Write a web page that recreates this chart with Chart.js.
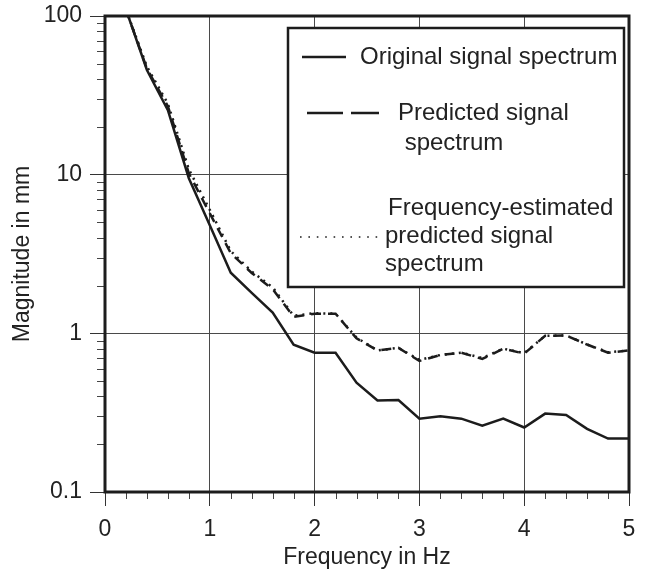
<!DOCTYPE html>
<html>
<head>
<meta charset="utf-8">
<script src="https://cdn.jsdelivr.net/npm/chart.js@4.4.1/dist/chart.umd.min.js"></script>
<style>
  html, body { margin: 0; padding: 0; background: #fff; }
  #wrap { width: 647px; height: 574px; }
</style>
</head>
<body>
<div id="wrap"><canvas id="spectrumChart" width="647" height="574"></canvas></div>
<script>
// frequency bins (Hz)
const freqHz = [0.2, 0.4, 0.6, 0.8, 1.0, 1.2, 1.4, 1.6, 1.8, 2.0, 2.2, 2.4, 2.6,
                2.8, 3.0, 3.2, 3.4, 3.6, 3.8, 4.0, 4.2, 4.4, 4.6, 4.8, 5.0];

// magnitudes in mm
const originalSpectrum  = [110, 45.7, 25.5, 9.5, 4.8, 2.41, 1.80, 1.35, 0.847, 0.755, 0.755, 0.489, 0.377,
                           0.38, 0.29, 0.30, 0.29, 0.262, 0.29, 0.255, 0.312, 0.306, 0.25, 0.217, 0.217];
const predictedSpectrum = [110, 46.5, 27, 10.2, 5.7, 3.2, 2.4, 1.9, 1.27, 1.33, 1.33, 0.93, 0.78,
                           0.81, 0.67, 0.73, 0.755, 0.69, 0.80, 0.745, 0.965, 0.97, 0.85, 0.755, 0.78];
const estimatedSpectrum = [110, 48, 28, 10.8, 6.0, 3.3, 2.45, 1.95, 1.29, 1.34, 1.33, 0.94, 0.78,
                           0.81, 0.68, 0.73, 0.755, 0.70, 0.80, 0.75, 0.965, 0.97, 0.85, 0.76, 0.78];

// axis ticks
const xTickValues = [0, 0.2, 0.4, 0.6, 0.8, 1, 1.2, 1.4, 1.6, 1.8, 2, 2.2, 2.4, 2.6, 2.8,
                     3, 3.2, 3.4, 3.6, 3.8, 4, 4.2, 4.4, 4.6, 4.8, 5];
const xMajorValues = [0, 1, 2, 3, 4, 5];
const xTickLabels  = ['0', '1', '2', '3', '4', '5'];
const yTickValues = [0.1, 0.2, 0.3, 0.4, 0.5, 0.6, 0.7, 0.8, 0.9,
                     1, 2, 3, 4, 5, 6, 7, 8, 9,
                     10, 20, 30, 40, 50, 60, 70, 80, 90, 100];
const yMajorValues = [0.1, 1, 10, 100];
const yTickLabels  = ['0.1', '1', '10', '100'];

const seriesLabels = [
    ['Original signal spectrum'],
    ['Predicted signal', ' spectrum'],
    ['Frequency-estimated', 'predicted signal', 'spectrum']
];

const INK = '#1c1c1c';
const GRID = '#4a4a4a';
const FONT = '"Liberation Sans", Arial, sans-serif';

function majorIndex(list, v) {
    return list.findIndex(m => Math.abs(m - v) < 1e-6 * Math.max(1, m));
}

function toPoints(ys) {
    return freqHz.map((f, i) => ({ x: f, y: ys[i] }));
}

// frame, short minor ticks and the boxed legend
const spectrumDecor = {
    id: 'spectrumDecor',
    afterDatasetsDraw(chart) {
        const { ctx, chartArea: a, scales } = chart;
        ctx.save();

        // minor ticks, outside the plot
        ctx.strokeStyle = '#444';
        ctx.lineWidth = 1;
        ctx.beginPath();
        xTickValues.forEach(v => {
            if (majorIndex(xMajorValues, v) >= 0) return;
            const px = Math.round(scales.x.getPixelForValue(v)) + 0.5;
            ctx.moveTo(px, a.bottom);
            ctx.lineTo(px, a.bottom + 7);
        });
        yTickValues.forEach(v => {
            if (majorIndex(yMajorValues, v) >= 0) return;
            const py = Math.round(scales.y.getPixelForValue(v)) + 0.5;
            ctx.moveTo(a.left - 8, py);
            ctx.lineTo(a.left, py);
        });
        ctx.stroke();

        // plot frame
        ctx.strokeStyle = INK;
        ctx.lineWidth = 3;
        ctx.strokeRect(a.left, a.top, a.right - a.left, a.bottom - a.top);

        // legend box
        const box = { left: 288, top: 28, right: 624, bottom: 287 };
        ctx.fillStyle = '#fff';
        ctx.fillRect(box.left, box.top, box.right - box.left, box.bottom - box.top);
        ctx.lineWidth = 2.5;
        ctx.strokeStyle = INK;
        ctx.strokeRect(box.left, box.top, box.right - box.left, box.bottom - box.top);

        const entries = [
            { sx0: 302, sx1: 346, sy: 57,  dash: [],      tx: [360],           ty: [57] },
            { sx0: 307, sx1: 379, sy: 113, dash: [36, 8], tx: [398, 398],      ty: [113, 143] },
            { sx0: 300, sx1: 378, sy: 237, dash: [1.6, 6.8], tx: [388, 385, 385], ty: [208, 236, 264] }
        ];
        ctx.font = '24px ' + FONT;
        ctx.textBaseline = 'middle';
        ctx.textAlign = 'left';
        entries.forEach((e, i) => {
            ctx.beginPath();
            ctx.setLineDash(e.dash);
            ctx.lineWidth = i === 2 ? 1.6 : 2.5;
            ctx.strokeStyle = INK;
            ctx.moveTo(e.sx0, e.sy);
            ctx.lineTo(e.sx1, e.sy);
            ctx.stroke();
            ctx.setLineDash([]);
            ctx.fillStyle = '#222';
            seriesLabels[i].forEach((line, j) => ctx.fillText(line, e.tx[j], e.ty[j]));
        });
        ctx.restore();
    }
};

const ctx = document.getElementById('spectrumChart').getContext('2d');

const spectrumChart = new Chart(ctx, {
    type: 'line',
    data: {
        datasets: [{
            label: seriesLabels[0].join(' '),
            data: toPoints(originalSpectrum),
            borderColor: INK,
            borderWidth: 2.5,
            borderDash: []
        }, {
            label: seriesLabels[1].join(' '),
            data: toPoints(predictedSpectrum),
            borderColor: INK,
            borderWidth: 2.5,
            borderDash: [10, 7]
        }, {
            label: seriesLabels[2].join(' '),
            data: toPoints(estimatedSpectrum),
            borderColor: INK,
            borderWidth: 2.5,
            borderDash: [2, 5]
        }]
    },
    options: {
        responsive: false,
        animation: false,
        devicePixelRatio: 1,
        layout: { padding: { top: 16, right: 18, left: 0, bottom: 0 } },
        elements: {
            point: { radius: 0 },
            line: { tension: 0, fill: false, borderCapStyle: 'butt' }
        },
        plugins: {
            legend: { display: false },
            tooltip: { enabled: false }
        },
        scales: {
            x: {
                type: 'linear',
                min: 0,
                max: 5,
                afterBuildTicks: scale => { scale.ticks = xTickValues.map(v => ({ value: v })); },
                afterFit: scale => { scale.height = 82; },
                border: { display: false },
                grid: {
                    color: c => majorIndex(xMajorValues, c.tick.value) >= 0 ? GRID : 'rgba(0,0,0,0)',
                    tickColor: c => majorIndex(xMajorValues, c.tick.value) >= 0 ? '#333' : 'rgba(0,0,0,0)',
                    lineWidth: 1,
                    tickLength: 14
                },
                ticks: {
                    autoSkip: false,
                    maxRotation: 0,
                    padding: 10,
                    color: '#222',
                    font: { family: FONT, size: 23 },
                    callback: v => {
                        const k = majorIndex(xMajorValues, v);
                        return k >= 0 ? xTickLabels[k] : '';
                    }
                },
                title: {
                    display: true,
                    text: 'Frequency in Hz',
                    color: '#222',
                    font: { family: FONT, size: 23 },
                    padding: { top: 0, bottom: 3 }
                }
            },
            y: {
                type: 'logarithmic',
                min: 0.1,
                max: 100,
                afterBuildTicks: scale => { scale.ticks = yTickValues.map(v => ({ value: v })); },
                afterFit: scale => {
                    scale.width = 105;
                    // let the layout padding alone decide the plot top
                    scale.paddingTop = 0;
                    scale.paddingBottom = 0;
                },
                border: { display: false },
                grid: {
                    color: c => majorIndex(yMajorValues, c.tick.value) >= 0 ? GRID : 'rgba(0,0,0,0)',
                    tickColor: c => majorIndex(yMajorValues, c.tick.value) >= 0 ? '#333' : 'rgba(0,0,0,0)',
                    lineWidth: 1,
                    tickLength: 15
                },
                ticks: {
                    autoSkip: false,
                    padding: 8,
                    color: '#222',
                    font: { family: FONT, size: 23 },
                    callback: v => {
                        const k = majorIndex(yMajorValues, v);
                        return k >= 0 ? yTickLabels[k] : '';
                    }
                },
                title: {
                    display: true,
                    text: 'Magnitude in mm',
                    color: '#222',
                    font: { family: FONT, size: 23 },
                    padding: { top: 9, bottom: 0 }
                }
            }
        }
    },
    plugins: [spectrumDecor]
});
</script>
</body>
</html>
